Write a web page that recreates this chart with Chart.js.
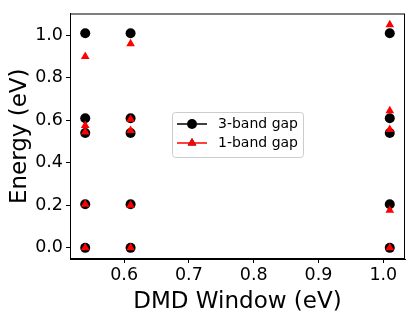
<!DOCTYPE html>
<html>
<head>
<meta charset="utf-8">
<script src="https://cdn.jsdelivr.net/npm/chart.js@4"></script>
<style>
    html, body { margin: 0; padding: 0; background: #fff; }
    #wrap { width: 415px; height: 318px; }
</style>
</head>
<body>
<div id="wrap"><canvas id="energy"></canvas></div>
<script>
    // DMD window positions (eV)
    var windowsEv = [0.54, 0.61, 1.01];

    // 3-band gap energies, 5 levels per window
    var threeBand054 = [1.01, 0.61, 0.54, 0.205, 0.0];
    var threeBand061 = [1.01, 0.61, 0.54, 0.205, 0.0];
    var threeBand101 = [1.01, 0.61, 0.54, 0.205, 0.0];

    // 1-band gap energies
    var oneBand054 = [0.90, 0.575, 0.545, 0.205, 0.0];
    var oneBand061 = [0.96, 0.605, 0.552, 0.20, 0.0];
    var oneBand101 = [1.05, 0.645, 0.557, 0.177, 0.0];

    var xTicks = [0.6, 0.7, 0.8, 0.9, 1.0];
    var yTicks = [0.0, 0.2, 0.4, 0.6, 0.8, 1.0];

    var seriesNames = ['3-band gap', '1-band gap'];

    function toPoints(groups) {
        var pts = [];
        groups.forEach(function (vals, i) {
            vals.forEach(function (v) {
                pts.push({x: windowsEv[i], y: v});
            });
        });
        return pts;
    }

    var font = 'DejaVu Sans';

    // full box around plot + matplotlib-like legend
    var boxAndLegend = {
        id: 'boxAndLegend',
        afterDraw: function (chart) {
            var ctx = chart.ctx;
            var a = chart.chartArea;
            ctx.save();
            ctx.strokeStyle = '#000';
            ctx.lineWidth = 1;
            ctx.strokeRect(a.left + 0.5, a.top + 0.5, a.right - a.left - 1, a.bottom - a.top - 1);

            // legend
            var bx = 172.5, by = 112.5, bw = 131, bh = 45, r = 3;
            ctx.beginPath();
            ctx.moveTo(bx + r, by);
            ctx.arcTo(bx + bw, by, bx + bw, by + bh, r);
            ctx.arcTo(bx + bw, by + bh, bx, by + bh, r);
            ctx.arcTo(bx, by + bh, bx, by, r);
            ctx.arcTo(bx, by, bx + bw, by, r);
            ctx.closePath();
            ctx.fillStyle = 'rgba(255,255,255,0.85)';
            ctx.fill();
            ctx.strokeStyle = '#cccccc';
            ctx.stroke();

            var rows = [
                {y: 124, color: '#000', style: 'circle'},
                {y: 143, color: '#ff0000', style: 'triangle'}
            ];
            ctx.font = '14px "' + font + '"';
            ctx.textBaseline = 'middle';
            rows.forEach(function (row, i) {
                ctx.strokeStyle = row.color;
                ctx.lineWidth = 1.5;
                ctx.beginPath();
                ctx.moveTo(177, row.y);
                ctx.lineTo(207, row.y);
                ctx.stroke();
                Chart.helpers.drawPoint(ctx, {
                    pointStyle: row.style, radius: 5, rotation: 0, borderWidth: 0
                }, 192, row.y);
                ctx.fillStyle = row.color;
                ctx.fill();
                ctx.fillStyle = '#000';
                ctx.fillText(seriesNames[i], 218, row.y);
            });
            ctx.restore();
        }
    };

    new Chart(document.getElementById('energy'), {
        type: 'scatter',
        data: {
            datasets: [
                {
                    label: seriesNames[0],
                    data: toPoints([threeBand054, threeBand061, threeBand101]),
                    pointStyle: 'circle',
                    pointRadius: 5,
                    backgroundColor: '#000',
                    borderColor: '#000',
                    borderWidth: 0,
                    order: 2
                },
                {
                    label: seriesNames[1],
                    data: toPoints([oneBand054, oneBand061, oneBand101]),
                    pointStyle: 'triangle',
                    pointRadius: 5,
                    backgroundColor: '#ff0000',
                    borderColor: '#ff0000',
                    borderWidth: 0,
                    order: 1
                }
            ]
        },
        options: {
            responsive: true,
            maintainAspectRatio: false,
            animation: false,
            layout: {padding: {top: 9, right: 10, left: 0, bottom: 0}},
            plugins: {
                legend: {display: false},
                tooltip: {enabled: false}
            },
            scales: {
                x: {
                    type: 'linear',
                    min: 0.5165,
                    max: 1.0335,
                    afterBuildTicks: function (axis) {
                        axis.ticks = xTicks.map(function (v) { return {value: v}; });
                    },
                    afterFit: function (axis) { axis.height = 59; },
                    ticks: {
                        color: '#000',
                        font: {family: font, size: 17.5},
                        padding: 2,
                        maxRotation: 0,
                        callback: function (v) { return v.toFixed(1); }
                    },
                    grid: {display: true, drawOnChartArea: false, drawTicks: true, tickLength: 4, color: '#000'},
                    border: {display: true, color: '#000'},
                    title: {
                        display: true,
                        text: 'DMD Window (eV)',
                        color: '#000',
                        font: {family: font, size: 23},
                        padding: {top: 0, bottom: 2}
                    }
                },
                y: {
                    type: 'linear',
                    min: -0.0525,
                    max: 1.1025,
                    afterBuildTicks: function (axis) {
                        axis.ticks = yTicks.map(function (v) { return {value: v}; });
                    },
                    afterFit: function (axis) { axis.width = 70; },
                    ticks: {
                        color: '#000',
                        font: {family: font, size: 17.5},
                        padding: 3,
                        callback: function (v) { return v.toFixed(1); }
                    },
                    grid: {display: true, drawOnChartArea: false, drawTicks: true, tickLength: 4, color: '#000'},
                    border: {display: true, color: '#000'},
                    title: {
                        display: true,
                        text: 'Energy (eV)',
                        color: '#000',
                        font: {family: font, size: 23},
                        padding: {top: 6, bottom: 0}
                    }
                }
            }
        },
        plugins: [boxAndLegend]
    });
</script>
</body>
</html>
